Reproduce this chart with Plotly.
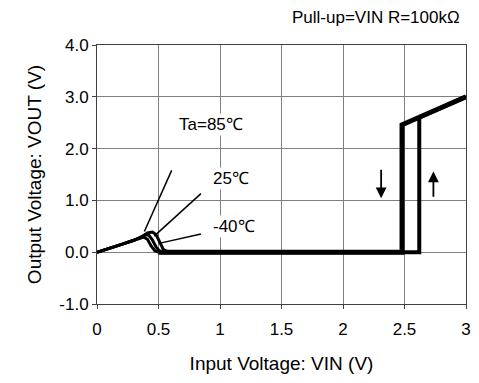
import plotly.graph_objects as go

# ---- data ----
vin_85 = [0, 0.1, 0.2, 0.3, 0.35, 0.38, 0.41, 0.44, 0.47, 0.5]
vout_85 = [0, 0.07, 0.15, 0.23, 0.27, 0.29, 0.25, 0.12, 0.03, 0]
vin_25 = [0, 0.1, 0.2, 0.3, 0.35, 0.39, 0.42, 0.45, 0.48, 0.51, 0.54]
vout_25 = [0, 0.07, 0.15, 0.23, 0.28, 0.33, 0.33, 0.24, 0.1, 0.02, 0]
vin_m40 = [0, 0.1, 0.2, 0.3, 0.36, 0.41, 0.45, 0.48, 0.51, 0.54, 0.58]
vout_m40 = [0, 0.07, 0.15, 0.23, 0.29, 0.37, 0.39, 0.34, 0.18, 0.05, 0]

# hysteresis (all temperatures overlap)
vin_up = [0.5, 2.62, 2.62, 3.0]
vout_up = [0, 0, 2.6, 3.0]
vin_dn = [3.0, 2.48, 2.48, 0.5]
vout_dn = [3.0, 2.46, 0, 0]

x_ticks = [0, 0.5, 1, 1.5, 2, 2.5, 3]
x_ticktext = ["0", "0.5", "1", "1.5", "2", "2.5", "3"]
y_ticks = [-1, 0, 1, 2, 3, 4]
y_ticktext = ["-1.0", "0.0", "1.0", "2.0", "3.0", "4.0"]

labels = ["Ta=85℃", "25℃", "-40℃"]
label_x = [0.93, 1.087, 1.115]
label_y = [2.47, 1.42, 0.49]
leader_x0 = [0.607, 0.845, 0.845]
leader_y0 = [1.58, 1.13, 0.35]
leader_x1 = [0.385, 0.465, 0.505]
leader_y1 = [0.40, 0.31, 0.17]

arrow_x = [2.31, 2.735]
arrow_tail_y = [1.62, 1.04]
arrow_head_y = [1.04, 1.56]

FONT = "Liberation Sans, Arial, sans-serif"

fig = go.Figure()
for xs, ys in [(vin_85, vout_85), (vin_25, vout_25), (vin_m40, vout_m40)]:
    fig.add_trace(go.Scatter(x=xs, y=ys, mode="lines",
                             line=dict(color="black", width=3), showlegend=False,
                             hoverinfo="skip"))
fig.add_trace(go.Scatter(x=vin_up, y=vout_up, mode="lines",
                         line=dict(color="black", width=4), showlegend=False))
fig.add_trace(go.Scatter(x=vin_dn, y=vout_dn, mode="lines",
                         line=dict(color="black", width=5), showlegend=False))

for i in range(3):
    fig.add_shape(type="line", xref="x", yref="y",
                  x0=leader_x0[i], y0=leader_y0[i], x1=leader_x1[i], y1=leader_y1[i],
                  line=dict(color="black", width=1.5))
    fig.add_annotation(x=label_x[i], y=label_y[i], text=labels[i], showarrow=False,
                       bgcolor="white", font=dict(family=FONT, size=17, color="black"))

for i in range(2):
    fig.add_annotation(x=arrow_x[i], y=arrow_head_y[i], ax=arrow_x[i], ay=arrow_tail_y[i],
                       axref="x", ayref="y", xref="x", yref="y", text="",
                       showarrow=True, arrowhead=2, arrowsize=1.2, arrowwidth=1.8,
                       arrowcolor="black")

fig.add_annotation(xref="paper", yref="paper", x=0.99, y=1.0, yshift=16,
                   xanchor="right", yanchor="bottom", text="Pull-up=VIN R=100kΩ",
                   showarrow=False, font=dict(family=FONT, size=17, color="black"))

fig.update_layout(
    width=479, height=383,
    margin=dict(l=97, r=8, t=45, b=79),
    paper_bgcolor="white", plot_bgcolor="white",
    font=dict(family=FONT, size=17, color="black"),
    xaxis=dict(range=[0, 3], tickvals=x_ticks, ticktext=x_ticktext,
               showgrid=True, gridcolor="#808080", gridwidth=1,
               showline=True, linecolor="#404040", linewidth=1, mirror=True,
               ticks="outside", ticklen=4, tickcolor="#404040", zeroline=False,
               ticklabelstandoff=6,
               title=dict(text="Input Voltage: VIN (V)", standoff=18,
                          font=dict(family=FONT, size=19))),
    yaxis=dict(range=[-1, 4], tickvals=y_ticks, ticktext=y_ticktext,
               showgrid=True, gridcolor="#808080", gridwidth=1,
               showline=True, linecolor="#404040", linewidth=1, mirror=True,
               ticks="outside", ticklen=4, tickcolor="#404040", zeroline=False,
               title=dict(text="Output Voltage: VOUT (V)", standoff=12,
                          font=dict(family=FONT, size=19))),
)

fig.write_html("out.html")
